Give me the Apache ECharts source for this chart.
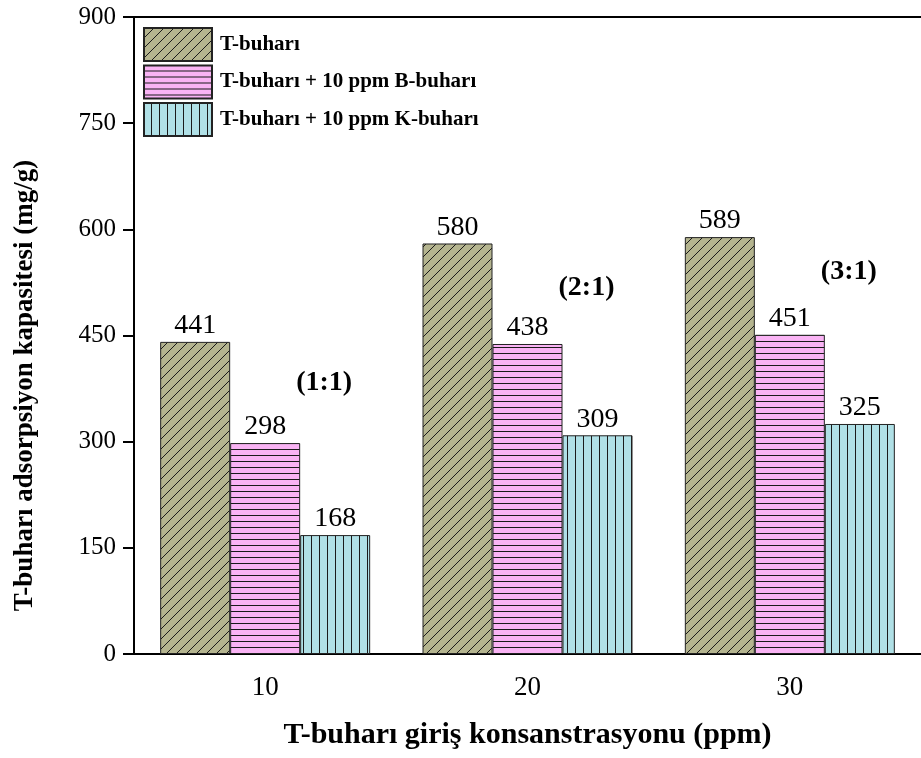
<!DOCTYPE html>
<html>
<head>
<meta charset="utf-8">
<script src="https://cdn.jsdelivr.net/npm/echarts@6/dist/echarts.min.js"></script>
<style>
  html, body { margin: 0; padding: 0; background: #fff; }
  #chart { width: 921px; height: 758px; }
</style>
</head>
<body>
<div id="chart"></div>
<script>
// Inlet concentration groups (ppm)
const categories = ['10', '20', '30'];
// Adsorption capacity (mg/g) per feed composition
const seriesNames = ['T-buharı', 'T-buharı + 10 ppm B-buharı', 'T-buharı + 10 ppm K-buharı'];
const tBuhari = [441, 580, 589];
const tPlusB = [298, 438, 451];
const tPlusK = [168, 309, 325];
// Ratio notes shown beside each group, with the value level they sit at
const ratioLabels = ['(1:1)', '(2:1)', '(3:1)'];
const ratioLevels = [383, 517, 540];
const yTicks = { min: 0, max: 900, interval: 150 };

const SERIF = '"Liberation Serif", "Times New Roman", serif';

// Hatched fills drawn onto small tiles
function hatch(bg, kind, step) {
  const c = document.createElement('canvas');
  const ctx = c.getContext('2d');
  if (kind === 'diag') {
    c.width = step; c.height = step;
    ctx.fillStyle = bg; ctx.fillRect(0, 0, step, step);
    ctx.strokeStyle = '#1a1a1a'; ctx.lineWidth = 1;
    ctx.beginPath();
    ctx.moveTo(0, step); ctx.lineTo(step, 0);
    ctx.moveTo(-2, 2); ctx.lineTo(2, -2);
    ctx.moveTo(step - 2, step + 2); ctx.lineTo(step + 2, step - 2);
    ctx.stroke();
  } else if (kind === 'h') {
    c.width = 4; c.height = step;
    ctx.fillStyle = bg; ctx.fillRect(0, 0, 4, step);
    ctx.fillStyle = '#1a1a1a'; ctx.fillRect(0, step - 1, 4, 1);
  } else {
    c.width = step; c.height = 4;
    ctx.fillStyle = bg; ctx.fillRect(0, 0, step, 4);
    ctx.fillStyle = '#1a1a1a'; ctx.fillRect(step - 1, 0, 1, 4);
  }
  return { image: c, repeat: 'repeat' };
}

const fills = [
  hatch('#b4b48f', 'diag', 10),
  hatch('#f9b3f4', 'h', 6),
  hatch('#b0e0e6', 'v', 8)
];
const values = [tBuhari, tPlusB, tPlusK];

const chart = echarts.init(document.getElementById('chart'), null, { renderer: 'canvas' });

const series = values.map((vals, i) => ({
  name: seriesNames[i],
  type: 'bar',
  data: vals,
  barWidth: 70,
  barGap: '0%',
  itemStyle: { color: fills[i], borderColor: '#222', borderWidth: 1 },
  label: {
    show: true, position: 'top', distance: 2,
    color: '#000', fontFamily: SERIF, fontSize: 28
  }
}));

chart.setOption({
  animation: false,
  backgroundColor: '#fff',
  grid: { left: 134, right: -5, top: 17, bottom: 104 },
  legend: {
    orient: 'vertical', left: 143, top: 27,
    icon: 'rect',
    itemWidth: 68, itemHeight: 33, itemGap: 2.5,
    padding: 0,
    data: seriesNames,
    textStyle: { color: '#000', fontFamily: SERIF, fontWeight: 'bold', fontSize: 21, padding: [0, 0, 0, 3] }
  },
  xAxis: [{
    type: 'category', data: categories, position: 'bottom',
    axisLine: { lineStyle: { color: '#000', width: 2 } },
    axisTick: { alignWithLabel: true, length: 11, lineStyle: { color: '#000', width: 2 } },
    axisLabel: { color: '#000', fontFamily: SERIF, fontSize: 27, margin: 20 },
    name: 'T-buharı giriş konsanstrasyonu (ppm)',
    nameLocation: 'middle', nameGap: 66,
    nameTextStyle: { color: '#000', fontFamily: SERIF, fontWeight: 'bold', fontSize: 30 }
  }, {
    type: 'category', data: categories, position: 'top',
    axisLine: { show: true, lineStyle: { color: '#000', width: 2 } },
    axisTick: { show: false }, axisLabel: { show: false }
  }],
  yAxis: {
    type: 'value', min: yTicks.min, max: yTicks.max, interval: yTicks.interval,
    axisLine: { show: true, lineStyle: { color: '#000', width: 2 } },
    axisTick: { show: true, length: 11, lineStyle: { color: '#000', width: 2 } },
    axisLabel: { color: '#000', fontFamily: SERIF, fontSize: 25, margin: 18 },
    splitLine: { show: false }
  },
  series: series
});

// Y axis title and ratio notes placed from axis coordinates
function placeText() {
  const graphics = [];
  const top = chart.convertToPixel({ yAxisIndex: 0 }, yTicks.max);
  const bottom = chart.convertToPixel({ yAxisIndex: 0 }, yTicks.min);
  graphics.push({
    type: 'text', x: 25, y: (top + bottom) / 2 + 50, rotation: Math.PI / 2,
    style: {
      text: 'T-buharı adsorpsiyon kapasitesi (mg/g)',
      font: 'bold 27px ' + SERIF, fill: '#000',
      textAlign: 'center', textVerticalAlign: 'middle'
    }
  });
  ratioLabels.forEach((t, i) => {
    const x = chart.convertToPixel({ xAxisIndex: 0 }, categories[i]) + 59;
    const y = chart.convertToPixel({ yAxisIndex: 0 }, ratioLevels[i]);
    graphics.push({
      type: 'text', x: x, y: y,
      style: { text: t, font: 'bold 28px ' + SERIF, fill: '#000', textAlign: 'center', textVerticalAlign: 'middle' }
    });
  });
  chart.setOption({ graphic: graphics });
}
placeText();
</script>
</body>
</html>
